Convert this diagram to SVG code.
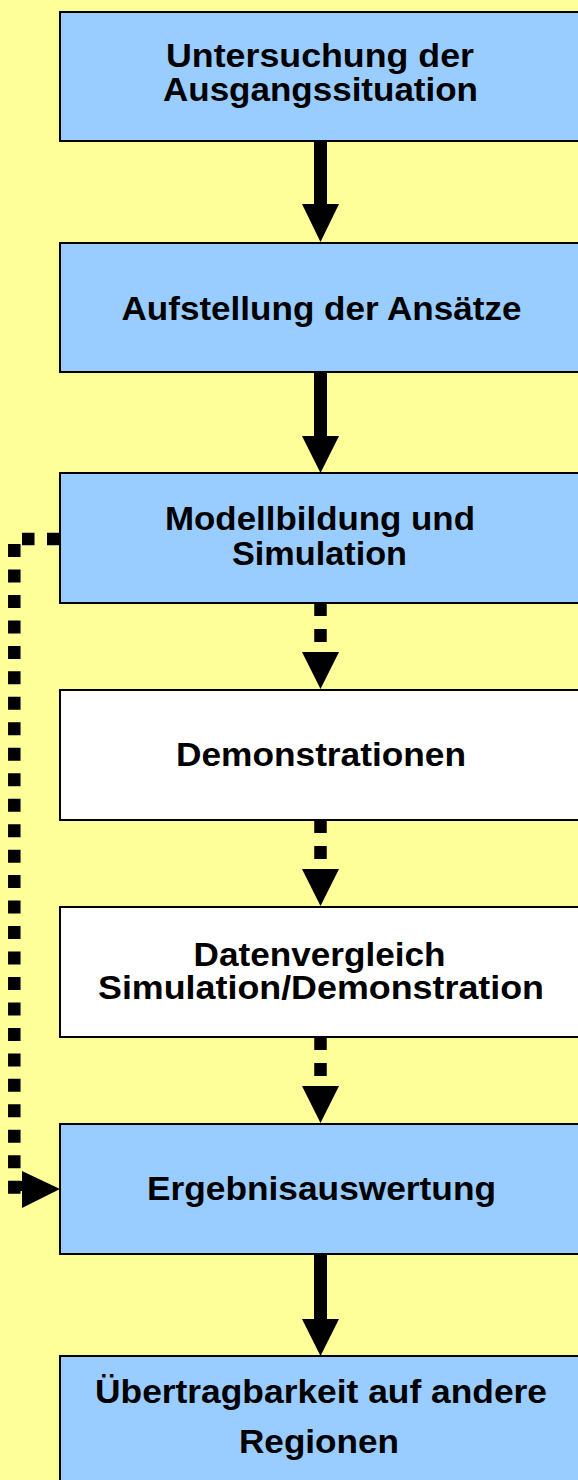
<svg xmlns="http://www.w3.org/2000/svg" width="578" height="1480" viewBox="0 0 578 1480">
<style>
.bg{fill:#FFFF99}
.box{stroke:#000;stroke-width:2}
.blue{fill:#99CCFF}
.white{fill:#FFFFFF}
.t{font-family:"Liberation Sans",Arial,sans-serif;font-weight:bold;font-size:32.5px;fill:#000;text-anchor:middle}
.shaft{fill:#000}
.head{fill:#000}
.dots{stroke:#000;stroke-width:12.5;fill:none;stroke-linecap:butt}
</style>
<rect class="bg" x="0" y="0" width="578" height="1480"/>
<g id="connectors">
  <rect class="shaft" x="314" y="140" width="13" height="65"/>
  <polygon class="head" points="302,204 339,204 320.5,242"/>
  <rect class="shaft" x="314" y="371" width="13" height="66"/>
  <polygon class="head" points="302,436 339,436 320.5,473"/>
  <line class="dots" x1="320.5" y1="603" x2="320.5" y2="643" stroke-dasharray="13 13"/>
  <polygon class="head" points="302,652 339,652 320.5,689"/>
  <line class="dots" x1="320.5" y1="820" x2="320.5" y2="860" stroke-dasharray="13 13"/>
  <polygon class="head" points="302,869 339,869 320.5,906"/>
  <line class="dots" x1="320.5" y1="1037" x2="320.5" y2="1077" stroke-dasharray="13 13"/>
  <polygon class="head" points="302,1086 339,1086 320.5,1123"/>
  <rect class="shaft" x="314" y="1253" width="13" height="67"/>
  <polygon class="head" points="302,1319 339,1319 320.5,1356"/>
  <line class="dots" x1="59.5" y1="539" x2="22" y2="539" stroke-dasharray="12.5 12.5"/>
  <line class="dots" x1="14.3" y1="544" x2="14.3" y2="1195" stroke-dasharray="13 12.47"/>
  <rect class="shaft" x="19" y="1181" width="4" height="10"/>
  <polygon class="head" points="22,1171 22,1208 60,1189"/>
</g>
<g id="n1"><rect class="box blue" x="60" y="12" width="530" height="129"/>
  <text class="t" x="320" y="66.5" textLength="308" lengthAdjust="spacingAndGlyphs">Untersuchung der</text>
  <text class="t" x="320.5" y="101" textLength="315" lengthAdjust="spacingAndGlyphs">Ausgangssituation</text></g>
<g id="n2"><rect class="box blue" x="60" y="243" width="530" height="129"/>
  <text class="t" x="321.5" y="320" textLength="400" lengthAdjust="spacingAndGlyphs">Aufstellung der Ansätze</text></g>
<g id="n3"><rect class="box blue" x="60" y="473" width="530" height="130"/>
  <text class="t" x="320" y="530" textLength="310" lengthAdjust="spacingAndGlyphs">Modellbildung und</text>
  <text class="t" x="319.5" y="564.5" textLength="175" lengthAdjust="spacingAndGlyphs">Simulation</text></g>
<g id="n4"><rect class="box white" x="60" y="690" width="530" height="130"/>
  <text class="t" x="321" y="766" textLength="290" lengthAdjust="spacingAndGlyphs">Demonstrationen</text></g>
<g id="n5"><rect class="box white" x="60" y="907" width="530" height="130"/>
  <text class="t" x="319.5" y="966" textLength="252" lengthAdjust="spacingAndGlyphs">Datenvergleich</text>
  <text class="t" x="321" y="998.5" textLength="446" lengthAdjust="spacingAndGlyphs">Simulation/Demonstration</text></g>
<g id="n6"><rect class="box blue" x="60" y="1124" width="530" height="130"/>
  <text class="t" x="321.5" y="1200" textLength="349" lengthAdjust="spacingAndGlyphs">Ergebnisauswertung</text></g>
<g id="n7"><rect class="box blue" x="60" y="1356" width="530" height="140"/>
  <text class="t" x="321" y="1402.5" textLength="452" lengthAdjust="spacingAndGlyphs">Übertragbarkeit auf andere</text>
  <text class="t" x="319" y="1452.5" textLength="160" lengthAdjust="spacingAndGlyphs">Regionen</text></g>
</svg>
